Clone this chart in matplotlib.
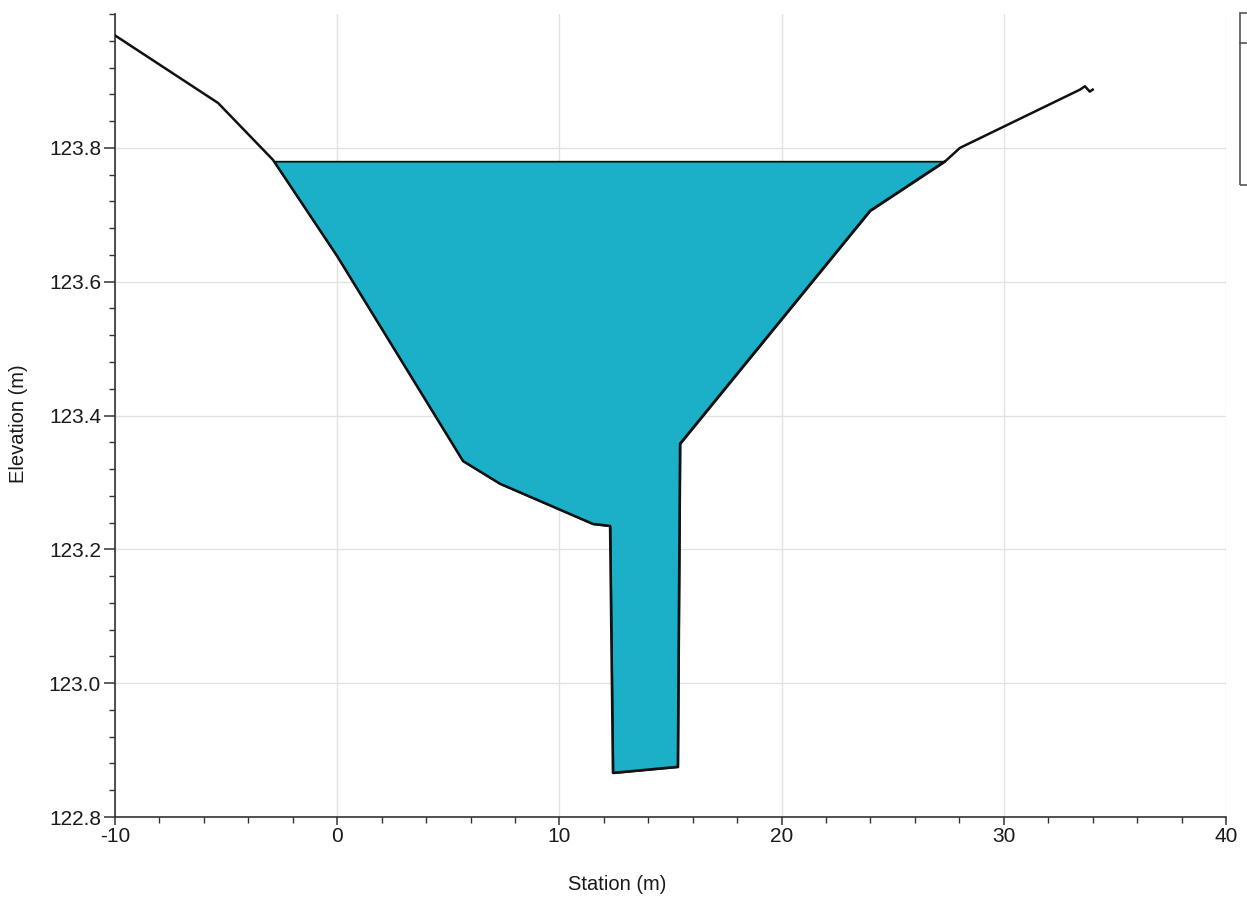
import matplotlib
matplotlib.use("Agg")
import matplotlib.pyplot as plt
from matplotlib.patches import Rectangle
from matplotlib.lines import Line2D
from matplotlib.ticker import MultipleLocator
import numpy as np

# Cross-section ground profile (station m, elevation m)
station = [-10.0, -5.36, -2.89, 0.0, 5.66, 7.33, 11.51, 12.28, 12.41,
           15.33, 15.43, 23.98, 27.40, 28.03, 33.43, 33.65, 33.87, 34.0]
elevation = [123.968, 123.867, 123.782, 123.638, 123.332, 123.298, 123.238,
             123.235, 122.866, 122.875, 123.358, 123.706, 123.781, 123.80,
             123.887, 123.892, 123.884, 123.887]
water_surface = 123.78

x_ticks = [-10, 0, 10, 20, 30, 40]
y_ticks = [122.8, 123.0, 123.2, 123.4, 123.6, 123.8]

plt.rcParams['font.family'] = ['Liberation Sans', 'DejaVu Sans']

fig = plt.figure(figsize=(12.47, 9.05), dpi=100)
ax = fig.add_axes([115 / 1247, (905 - 817) / 905, (1226 - 115) / 1247, (817 - 14) / 905])

st = np.array(station)
el = np.array(elevation)

# water fill below the water surface
ax.fill_between(st, el, water_surface, where=el <= water_surface, interpolate=True,
                facecolor='#1cafc8', edgecolor='#111111', linewidth=1.3, zorder=2)
# ground line
ax.plot(st, el, color='#111111', linewidth=1.8, zorder=3)

ax.set_xlim(-10, 40)
ax.set_ylim(122.8, 124.0)
ax.set_xticks(x_ticks)
ax.set_yticks(y_ticks)
ax.xaxis.set_minor_locator(MultipleLocator(2))
ax.yaxis.set_minor_locator(MultipleLocator(0.04))
ax.set_xticklabels([str(v) for v in x_ticks])
ax.set_yticklabels([f"{v:.1f}" for v in y_ticks])

ax.grid(True, which='major', color='#e2e2e2', linewidth=1.0, zorder=0)
ax.set_axisbelow(True)
for s in ['top', 'right']:
    ax.spines[s].set_visible(False)
for s in ['left', 'bottom']:
    ax.spines[s].set_color('#333333')
    ax.spines[s].set_linewidth(1.2)

ax.tick_params(which='major', direction='out', length=8, width=1.1, color='#333333',
               labelsize=15, labelcolor='#1a1a1a', pad=2)
ax.tick_params(axis='x', which='major', length=6, pad=1)
ax.tick_params(which='minor', direction='out', length=4, width=1.0, color='#333333')

ax.set_xlabel("Station (m)", fontsize=14.5, color='#1a1a1a')
ax.xaxis.set_label_coords(502 / 1111, -0.072)
ax.set_ylabel("Elevation (m)", fontsize=14.5, color='#1a1a1a')
ax.yaxis.set_label_coords(-0.078, 0.49)

# partial legend frame cut by the right edge of the page
fig.patches.append(Rectangle((1240 / 1247, (905 - 185) / 905), 0.05, 172 / 905,
                             transform=fig.transFigure, fill=False,
                             edgecolor='#555555', linewidth=1.2))
fig.lines.append(Line2D([1240 / 1247, 1.0], [(905 - 43) / 905] * 2,
                        transform=fig.transFigure, color='#555555', linewidth=1.2))

fig.savefig("out.png", dpi=100)
